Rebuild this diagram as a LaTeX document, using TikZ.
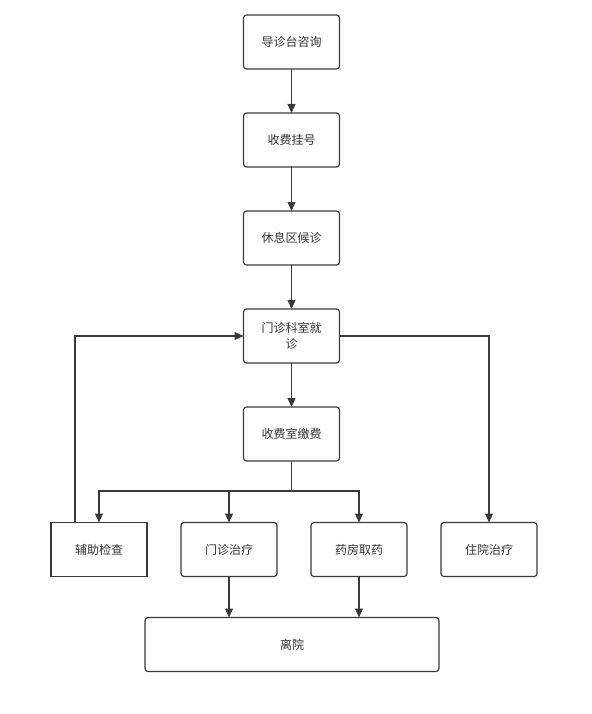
\documentclass[tikz,border=0pt]{standalone}
\usepackage{fontspec}
\newfontfamily\cjk{Noto Sans CJK SC}
\usepackage{tikz}
\usetikzlibrary{arrows.meta,positioning,calc}
\definecolor{ink}{HTML}{333333}
\definecolor{edge}{HTML}{3A3A3A}
\tikzset{
  box/.style={draw=edge,fill=white,rounded corners=3pt,line width=1.2pt,inner sep=2pt,outer sep=0pt,align=center,text=ink,minimum width=96pt,minimum height=54pt,font=\cjk\fontsize{12}{16}\selectfont},
  sqbox/.style={box,sharp corners},
  arrow/.style={-{Triangle[length=9pt,width=8pt]},line width=1.2pt,color=edge},
}
\begin{document}
\begin{tikzpicture}[x=1pt,y=1pt,node distance=44pt]
    \useasboundingbox (0,0) rectangle (591,-714);
    \node[box] (zx) at (291.5,-42) {导诊台咨询};
    \node[box,below=of zx] (gh) {收费挂号};
    \node[box,below=of gh] (hz) {休息区候诊};
    \node[box,below=of hz] (jz) {门诊科室就\\诊};
    \node[box,below=of jz] (jf) {收费室缴费};
    \node[sqbox] (jc) at (99,-549.5) {辅助检查};
    \node[box,right=34pt of jc] (zl) {门诊治疗};
    \node[box,right=34pt of zl] (qy) {药房取药};
    \node[box,right=34pt of qy] (zy) {住院治疗};
    \node[box,minimum width=294pt] (ly) at (292,-644.5) {离院};
    \foreach \x/\y in {zx/gh,gh/hz,hz/jz,jz/jf} \draw[arrow] (\x) -- (\y);
    \coordinate (br) at ($(jf.south)+(0,-30)$);
    \draw[line width=1.2pt,color=edge] (jf.south) -- (br);
    \foreach \y in {jc,zl,qy} \draw[arrow] (br) -| (\y.north);
    \coordinate (fb) at ($(jc.north west)!0.25!(jc.north east)$);
    \draw[arrow] (fb) |- (jz.west);
    \draw[arrow] (jz.east) -| (zy.north);
    \foreach \y in {zl,qy} \draw[arrow] (\y.south) -- (\y.south |- ly.north);
\end{tikzpicture}
\end{document}
